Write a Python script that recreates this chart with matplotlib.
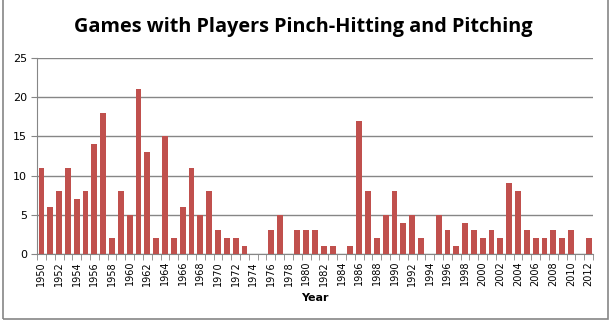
import numpy as np
import matplotlib.pyplot as plt
from matplotlib.patches import Rectangle

years = list(range(1950, 2013))
games = [11, 6, 8, 11, 7, 8, 14, 18, 2, 8,
         5, 21, 13, 2, 15, 2, 6, 11, 5, 8,
         3, 2, 2, 1, 0, 0, 3, 5, 0, 3,
         3, 3, 1, 1, 0, 1, 17, 8, 2, 5,
         8, 4, 5, 2, 0, 5, 3, 1, 4, 3,
         2, 3, 2, 9, 8, 3, 2, 2, 3, 2,
         3, 0, 2]

fig = plt.figure(figsize=(6.11, 3.23), dpi=100)
ax = fig.add_axes([0.0606, 0.2136, 0.91, 0.6068])

x = np.arange(len(years))
ax.bar(x, games, width=0.66, color='#C0504D', zorder=3)

ax.set_xlim(-0.5, len(years) - 0.5)
ax.set_ylim(0, 25)
ax.set_yticks(range(0, 26, 5))
ax.yaxis.grid(True, color='#868686', linewidth=1.0, zorder=0)

ax.set_xticks(x[::2])
ax.set_xticklabels([str(y) for y in years[::2]], rotation=90, fontsize=7)
ax.set_xticks(np.arange(-0.5, len(years)), minor=True)
ax.tick_params(axis='x', which='major', length=0, pad=5)
ax.tick_params(axis='x', which='minor', length=4, color='#868686', direction='out')
ax.tick_params(axis='y', length=4, color='#868686', labelsize=8, pad=3)

for side in ['top', 'right']:
    ax.spines[side].set_visible(False)
for side in ['left', 'bottom']:
    ax.spines[side].set_color('#868686')

ax.set_xlabel('Year', fontsize=8, fontweight='bold', labelpad=5)
fig.text(0.497, 0.915, 'Games with Players Pinch-Hitting and Pitching',
         ha='center', va='center', fontsize=14.3, fontweight='bold',
         family='Open Sans')

# chart border
fig.patches.append(Rectangle((3 / 611, 4 / 323), 605 / 611, 330 / 323,
                             transform=fig.transFigure, fill=False,
                             edgecolor='#868686', linewidth=1.2))

fig.savefig('out.png', dpi=100)
